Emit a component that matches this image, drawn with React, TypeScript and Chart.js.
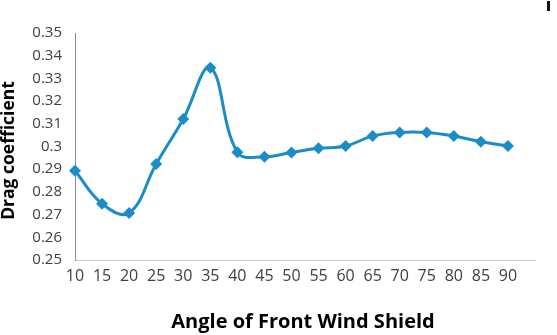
import React, { useEffect, useRef } from "react";
import { Chart, registerables } from "chart.js";

Chart.register(...registerables);

const angles = [10, 15, 20, 25, 30, 35, 40, 45, 50, 55, 60, 65, 70, 75, 80, 85, 90];
const dragCoefficients = [
  0.2893, 0.2748, 0.2707, 0.2923, 0.3121, 0.3347, 0.2975, 0.2955, 0.2974,
  0.2992, 0.3002, 0.3046, 0.3062, 0.3062, 0.3046, 0.3021, 0.3002,
];
const xMin = 10;
const xMax = 95;
const xStep = 5;
const yMin = 0.25;
const yMax = 0.35;
const yStep = 0.01;
const xTitle = "Angle of Front Wind Shield";
const yTitle = "Drag coefficient";

const lineColor = "#1b8cc8";
const FONT = "'Open Sans', 'Noto Sans', sans-serif";

const axisTitlesPlugin = {
  id: "axisTitles",
  afterDraw(chart: any) {
    const { ctx, chartArea } = chart;
    ctx.save();
    ctx.fillStyle = "#000000";
    ctx.textAlign = "center";
    ctx.textBaseline = "middle";
    ctx.font = `bold 20px ${FONT}`;
    const cx = (chartArea.left + chartArea.right) / 2;
    ctx.fillText(xTitle, cx - 2, chartArea.bottom + 62);
    ctx.translate(9, (chartArea.top + chartArea.bottom) / 2 + 4);
    ctx.rotate(-Math.PI / 2);
    ctx.font = `bold 17.5px ${FONT}`;
    ctx.fillText(yTitle, 0, 0);
    ctx.restore();
  },
};

export default function App() {
  const ref = useRef<HTMLCanvasElement | null>(null);

  useEffect(() => {
    if (!ref.current) return;
    const chart = new Chart(ref.current, {
      type: "line",
      data: {
        datasets: [
          {
            data: angles.map((a, i) => ({ x: a, y: dragCoefficients[i] })),
            borderColor: lineColor,
            backgroundColor: lineColor,
            borderWidth: 3,
            tension: 0.4,
            pointStyle: "rectRot",
            pointRadius: 6,
            pointBorderWidth: 0,
            pointBackgroundColor: lineColor,
            clip: false,
          },
        ],
      },
      options: {
        responsive: false,
        animation: false,
        devicePixelRatio: 1,
        layout: { padding: { top: 33, right: 22, left: 0, bottom: 0 } },
        plugins: {
          legend: { display: false },
          tooltip: { enabled: false },
        },
        scales: {
          x: {
            type: "linear",
            min: xMin,
            max: xMax,
            grid: { display: false, drawTicks: false },
            border: { display: true, color: "#c8c8c8", width: 1 },
            ticks: {
              stepSize: xStep,
              autoSkip: false,
              maxRotation: 0,
              padding: 7,
              color: "#404040",
              font: { family: FONT, size: 16 },
              callback: (v: any) => (Number(v) > 90 ? "" : String(v)),
            },
            afterFit: (scale: any) => {
              scale.height = 75;
            },
          },
          y: {
            min: yMin,
            max: yMax,
            grid: { display: false, drawTicks: false },
            border: { display: true, color: "#8c8c8c", width: 1 },
            ticks: {
              stepSize: yStep,
              padding: 13,
              color: "#404040",
              font: { family: FONT, size: 15 },
              callback: (v: any) => String(parseFloat(Number(v).toFixed(2))),
            },
            afterFit: (scale: any) => {
              scale.width = 75;
            },
          },
        },
      },
      plugins: [axisTitlesPlugin],
    });
    return () => chart.destroy();
  }, []);

  return (
    <div style={{ position: "absolute", left: 0, top: 0, width: 557, height: 335, background: "#fff" }}>
      <canvas ref={ref} width={557} height={335} style={{ display: "block" }} />
      <div style={{ position: "absolute", left: 547, top: 1, width: 3, height: 10, background: "#111" }} />
    </div>
  );
}
